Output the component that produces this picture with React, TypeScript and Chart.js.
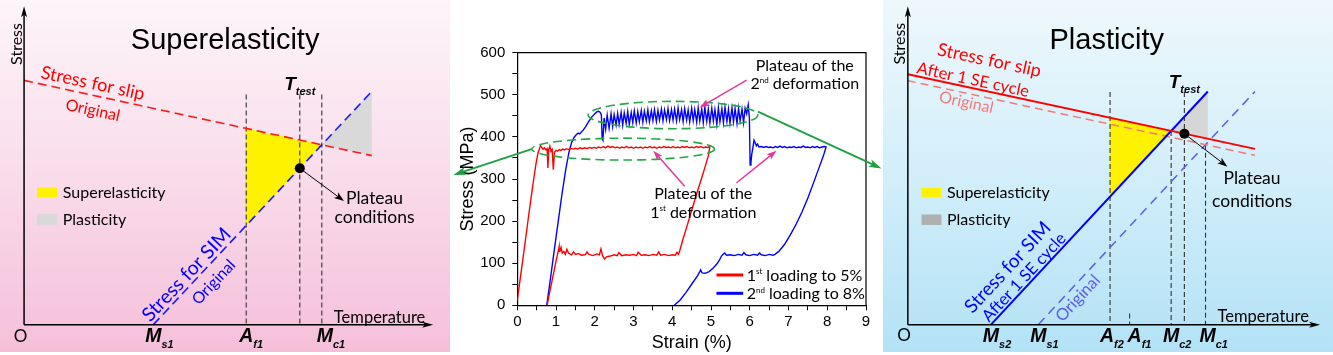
import React, { useEffect, useRef } from 'react';
import { Chart, registerables } from 'chart.js';

Chart.register(...registerables);

type Pt = [number, number];

const ANN = "Lato, 'Open Sans', sans-serif";
const ARIAL = "'Liberation Sans', Arial, sans-serif";

// ================= Middle panel: stress (MPa) vs strain (%) =================
const strainTickLabels = [0, 1, 2, 3, 4, 5, 6, 7, 8, 9];
const stressTickLabels = [0, 100, 200, 300, 400, 500, 600];

const firstLoading: Pt[] = [
  [0, 12], [0.1, 80], [0.2, 148], [0.3, 218], [0.4, 285], [0.48, 335], [0.53, 360], [0.57, 372],
  [0.6, 379], [0.63, 375], [0.66, 371], [0.7, 374], [0.74, 369], [0.77, 372], [0.79, 326], [0.81, 368],
  [0.84, 378], [0.87, 366], [0.9, 370], [0.93, 322], [0.96, 364], [1.0, 368], [1.04, 366], [1.08, 370],
  [1.12, 368], [1.17, 371], [1.22, 369], [1.27, 372], [1.32, 370], [1.38, 373], [1.44, 371], [1.5, 373],
  [1.56, 371], [1.62, 374], [1.68, 372], [1.74, 374], [1.8, 372], [1.86, 375], [1.92, 373], [1.98, 375],
  [2.04, 373], [2.1, 376], [2.16, 374], [2.22, 377], [2.28, 374], [2.34, 378], [2.4, 375], [2.46, 377],
  [2.52, 374], [2.58, 376], [2.64, 373], [2.7, 376], [2.76, 374], [2.82, 377], [2.88, 374], [2.94, 376],
  [3.0, 373], [3.06, 376], [3.12, 374], [3.18, 376], [3.24, 373], [3.3, 376], [3.36, 374], [3.42, 377],
  [3.48, 374], [3.54, 376], [3.6, 373], [3.66, 376], [3.72, 374], [3.78, 377], [3.84, 375], [3.9, 376],
  [3.96, 374], [4.02, 377], [4.08, 374], [4.14, 376], [4.2, 374], [4.26, 377], [4.32, 375], [4.38, 377],
  [4.44, 374], [4.5, 376], [4.56, 374], [4.62, 377], [4.68, 375], [4.74, 377], [4.8, 374], [4.86, 376],
  [4.92, 375], [4.97, 377],
];
const firstUnloading: Pt[] = [
  [4.93, 355], [4.85, 330], [4.75, 300], [4.62, 262], [4.5, 225], [4.38, 188], [4.27, 155], [4.2, 132], [4.16, 121],
  [4.12, 126], [4.08, 119], [4.0, 120], [3.9, 118], [3.8, 121], [3.7, 119], [3.65, 127], [3.6, 119], [3.5, 121],
  [3.4, 118], [3.3, 120], [3.2, 119], [3.12, 126], [3.08, 118], [3.0, 121], [2.9, 119], [2.8, 120], [2.7, 118],
  [2.62, 125], [2.58, 118], [2.5, 120], [2.4, 117], [2.3, 115], [2.25, 110], [2.2, 118], [2.16, 134], [2.12, 120],
  [2.05, 122], [1.95, 118], [1.85, 121], [1.8, 127], [1.75, 120], [1.65, 119], [1.58, 123], [1.5, 121], [1.45, 127],
  [1.4, 120], [1.32, 124], [1.28, 133], [1.24, 121], [1.2, 128], [1.16, 124], [1.13, 138], [1.1, 128], [1.08, 139],
  [1.0, 105], [0.9, 60], [0.8, 15], [0.77, 0],
];

const secondLoading: Pt[] = [
  [0.76, 0], [0.85, 60], [0.95, 128], [1.05, 195], [1.15, 262], [1.25, 322], [1.33, 362], [1.4, 386],
  [1.46, 398], [1.52, 405], [1.57, 409], [1.61, 407], [1.65, 411], [1.7, 416], [1.76, 424], [1.84, 436],
  [1.92, 447], [2.0, 455], [2.06, 460], [2.1, 461], [2.14, 458], [2.17, 452], [2.19, 395], [2.21, 392],
  [2.24, 445], [2.28, 418], [2.32, 452], [2.37, 420], [2.42, 455], [2.46, 425], [2.5, 453], [2.55, 428],
  [2.59, 456], [2.63, 430], [2.68, 458], [2.72, 428], [2.76, 457], [2.81, 432], [2.85, 460], [2.89, 430],
  [2.94, 458], [2.98, 434], [3.02, 462], [3.07, 433], [3.11, 460], [3.15, 436], [3.2, 463], [3.24, 435],
  [3.28, 461], [3.33, 438], [3.37, 464], [3.41, 436], [3.46, 462], [3.5, 439], [3.54, 465], [3.59, 437],
  [3.63, 463], [3.67, 440], [3.72, 466], [3.76, 438], [3.8, 464], [3.85, 441], [3.89, 467], [3.93, 439],
  [3.98, 465], [4.02, 440], [4.06, 466], [4.11, 438], [4.15, 468], [4.19, 441], [4.24, 465], [4.28, 437],
  [4.32, 467], [4.37, 440], [4.41, 464], [4.45, 436], [4.5, 468], [4.54, 439], [4.58, 465], [4.63, 435],
  [4.67, 469], [4.71, 438], [4.76, 466], [4.8, 434], [4.84, 470], [4.89, 437], [4.93, 466], [4.97, 433],
  [5.02, 468], [5.06, 438], [5.1, 465], [5.15, 430], [5.19, 469], [5.23, 436], [5.28, 467], [5.32, 434],
  [5.36, 470], [5.41, 437], [5.45, 466], [5.49, 433], [5.54, 469], [5.58, 436], [5.62, 467], [5.67, 432],
  [5.71, 468], [5.75, 438], [5.8, 466], [5.84, 434], [5.88, 468], [5.92, 455], [5.96, 476], [5.99, 445],
  [6.01, 333], [6.03, 338], [6.05, 358], [6.08, 374], [6.11, 392], [6.14, 386], [6.17, 379], [6.2, 383],
  [6.24, 376], [6.3, 377], [6.36, 375], [6.42, 377], [6.48, 375], [6.54, 376], [6.6, 374], [6.66, 377],
  [6.72, 375], [6.78, 378], [6.84, 375], [6.9, 377], [6.96, 374], [7.02, 376], [7.08, 375], [7.14, 377],
  [7.2, 374], [7.26, 376], [7.32, 375], [7.38, 378], [7.44, 375], [7.5, 376], [7.56, 374], [7.62, 377],
  [7.68, 375], [7.74, 377], [7.8, 374], [7.86, 376], [7.92, 377], [7.97, 376],
];
const secondUnloading: Pt[] = [
  [7.9, 355], [7.8, 330], [7.65, 292], [7.5, 255], [7.35, 222], [7.2, 193], [7.05, 168], [6.9, 145],
  [6.75, 128], [6.65, 121], [6.6, 119], [6.5, 121], [6.4, 118], [6.3, 120], [6.25, 124], [6.2, 119],
  [6.1, 121], [6.0, 118], [5.9, 120], [5.85, 125], [5.8, 119], [5.7, 121], [5.6, 118], [5.5, 120],
  [5.4, 119], [5.35, 124], [5.3, 120], [5.27, 117], [5.22, 108], [5.15, 98], [5.05, 88], [4.95, 80],
  [4.85, 76], [4.77, 77], [4.73, 84], [4.71, 80], [4.65, 70], [4.5, 50], [4.35, 30], [4.2, 12], [4.05, 0],
];

const legendLabels = [
  [{ t: '1' }, { t: 'st', k: 'sup' }, { t: ' loading to 5%' }],
  [{ t: '2' }, { t: 'nd', k: 'sup' }, { t: ' loading to 8%' }],
];
const seriesColors = ['#ff0000', '#0000ff'];

// ================= Left panel schematic (arbitrary temperature / stress units) =================
const seSlip: Pt[] = [[0, 83.8], [88.9, 58.0]];
const seSim: Pt[] = [[33.05, 0], [88.9, 80.0]];
const seAf1 = 56.8;
const seTtest = 70.5;
const seLineTop = 79;

// ================= Right panel schematic =================
const plSlipAfter: Pt[] = [[0, 85.9], [88.75, 60.3]];
const plSlipOrig: Pt[] = [[0, 83.7], [88.75, 58.1]];
const plSimAfter: Pt[] = [[21.25, 0], [76.7, 80.0]];
const plSimOrig: Pt[] = [[33.35, 0], [88.75, 80.0]];
const plAf2 = 51.7;
const plAf1 = 56.7;
const plTtest = 70.7;
const plLineTop = 79.8;

// ---------------- helpers ----------------
const xy = (a: Pt[]) => a.map(([x, y]) => ({ x, y }));
const lineAt = (s: Pt[], x: number) => s[0][1] + ((s[1][1] - s[0][1]) * (x - s[0][0])) / (s[1][0] - s[0][0]);
const crossX = (a: Pt[], b: Pt[]) => {
  const sa = (a[1][1] - a[0][1]) / (a[1][0] - a[0][0]);
  const sb = (b[1][1] - b[0][1]) / (b[1][0] - b[0][0]);
  const ia = a[0][1] - sa * a[0][0];
  const ib = b[0][1] - sb * b[0][0];
  return (ib - ia) / (sa - sb);
};

type Seg = { t: string; k?: string };
type TOpt = { size: number; family?: string; weight?: string; style?: string; color?: string; align?: string; rot?: number; sub?: number };
function rich(ctx: CanvasRenderingContext2D, segs: Seg[], x: number, y: number, o: TOpt) {
  const s = o.size;
  const ss = s * (o.sub ?? 0.6);
  const fnt = (sz: number) => `${o.style ?? 'normal'} ${o.weight ?? 'normal'} ${sz}px ${o.family ?? ANN}`;
  ctx.save();
  ctx.translate(x, y);
  ctx.rotate(o.rot ?? 0);
  ctx.textBaseline = 'alphabetic';
  ctx.textAlign = 'left';
  ctx.fillStyle = o.color ?? '#000';
  let total = 0;
  const ws = segs.map((g) => {
    ctx.font = fnt(g.k ? ss : s);
    const w = ctx.measureText(g.t).width;
    total += w;
    return w;
  });
  let cx = o.align === 'left' ? 0 : o.align === 'right' ? -total : -total / 2;
  const base = s * 0.36;
  segs.forEach((g, i) => {
    ctx.font = fnt(g.k ? ss : s);
    const dy = g.k === 'sub' ? s * 0.3 : g.k === 'sup' ? -s * 0.4 : 0;
    ctx.fillText(g.t, cx, base + dy);
    cx += ws[i];
  });
  ctx.restore();
}
const txt = (ctx: CanvasRenderingContext2D, t: string, x: number, y: number, o: TOpt) => rich(ctx, [{ t }], x, y, o);

function arrow(ctx: CanvasRenderingContext2D, x1: number, y1: number, x2: number, y2: number, color: string, w: number, hl: number, hw: number) {
  const a = Math.atan2(y2 - y1, x2 - x1);
  ctx.save();
  ctx.strokeStyle = color;
  ctx.fillStyle = color;
  ctx.lineWidth = w;
  ctx.setLineDash([]);
  ctx.beginPath();
  ctx.moveTo(x1, y1);
  ctx.lineTo(x2 - Math.cos(a) * hl * 0.7, y2 - Math.sin(a) * hl * 0.7);
  ctx.stroke();
  ctx.translate(x2, y2);
  ctx.rotate(a);
  ctx.beginPath();
  ctx.moveTo(0, 0);
  ctx.lineTo(-hl, hw / 2);
  ctx.lineTo(-hl * 0.75, 0);
  ctx.lineTo(-hl, -hw / 2);
  ctx.closePath();
  ctx.fill();
  ctx.restore();
}

const lineDs = (data: Pt[], color: string, width: number, dash: number[] = []) => ({
  data: xy(data), showLine: true, borderColor: color, borderWidth: width, borderDash: dash,
  pointRadius: 0, fill: false, tension: 0,
});
const polyDs = (data: Pt[], color: string) => ({
  data: xy([...data, data[0]]), showLine: true, borderWidth: 0, borderColor: 'rgba(0,0,0,0)',
  backgroundColor: color, fill: 'shape', pointRadius: 0, tension: 0,
});
const dotDs = (p: Pt) => ({ data: xy([p]), showLine: false, pointRadius: 5, pointBackgroundColor: '#000', pointBorderWidth: 0 });

const baseSchematicOptions = (xmin: number, xmax: number) => ({
  responsive: false, animation: false as const, devicePixelRatio: 1, events: [] as any[],
  layout: { padding: 0 },
  plugins: { legend: { display: false }, tooltip: { enabled: false } },
  scales: {
    x: { type: 'linear' as const, display: false, min: xmin, max: xmax },
    y: { type: 'linear' as const, display: false, min: -7.667, max: 109.667 },
  },
});

function drawAxes(ctx: CanvasRenderingContext2D, px: (v: number) => number, py: (v: number) => number, xEnd: number) {
  const ox = px(0), oy = py(0);
  arrow(ctx, ox, oy, ox, py(109.2), '#000', 1.5, 11, 6);
  arrow(ctx, ox, oy, px(xEnd), oy, '#000', 1.5, 11, 6);
}

function bgGradient(ctx: CanvasRenderingContext2D, w: number, h: number, stops: string[]) {
  const g = ctx.createLinearGradient(0, 0, 0, h);
  stops.forEach((c, i) => g.addColorStop(i / (stops.length - 1), c));
  ctx.save();
  ctx.fillStyle = g;
  ctx.fillRect(0, 0, w, h);
  ctx.restore();
}

const MARK = 19.5;
const markLabel = (ctx: CanvasRenderingContext2D, main: string, sub: string, x: number, y: number) => {
  ctx.save();
  ctx.font = `italic bold ${MARK}px ${ARIAL}`;
  const mw = ctx.measureText(main).width;
  ctx.restore();
  rich(ctx, [{ t: main }, { t: sub, k: 'sub' }], x - mw / 2, y, { size: MARK, family: ARIAL, weight: 'bold', style: 'italic', align: 'left', sub: 0.56 });
};

// ---------------- Left config ----------------
function leftConfig(): any {
  const mc1 = crossX(seSlip, seSim);
  const dotY = lineAt(seSim, seTtest);
  const edge = seSim[1][0];
  const datasets = [
    dotDs([seTtest, dotY]),
    lineDs(seSlip, '#ff1a1a', 1.6, [9, 5]),
    lineDs(seSim, '#1a1aff', 1.6, [9, 5]),
    lineDs([[seAf1, seLineTop], [seAf1, 0]], '#333', 1.1, [5, 3]),
    lineDs([[seTtest, seLineTop], [seTtest, 0]], '#333', 1.1, [5, 3]),
    lineDs([[mc1, seLineTop], [mc1, 0]], '#333', 1.1, [5, 3]),
    polyDs([[seAf1, lineAt(seSlip, seAf1)], [mc1, lineAt(seSlip, mc1)], [seAf1, lineAt(seSim, seAf1)]], '#fff200'),
    polyDs([[mc1, lineAt(seSlip, mc1)], [edge, lineAt(seSim, edge)], [edge, lineAt(seSlip, edge)]], '#d9d9d9'),
  ];
  const plugin = {
    id: 'leftDeco',
    beforeDraw(chart: any) {
      bgGradient(chart.ctx, chart.width, chart.height, ['#fdf5f9', '#f9dcea', '#f5bfda']);
    },
    afterDatasetsDraw(chart: any) {
      const ctx = chart.ctx as CanvasRenderingContext2D;
      const px = (v: number) => chart.scales.x.getPixelForValue(v);
      const py = (v: number) => chart.scales.y.getPixelForValue(v);
      const ang = (s: Pt[]) => Math.atan2(py(s[1][1]) - py(s[0][1]), px(s[1][0]) - px(s[0][0]));
      drawAxes(ctx, px, py, 104.6);
      txt(ctx, 'Superelasticity', px(51.4), py(98), { size: 29, family: ARIAL });
      txt(ctx, 'Stress', px(-1.9), py(96.3), { size: 16, rot: -Math.PI / 2 });
      txt(ctx, 'Temperature', px(90.9), py(2.7), { size: 16.5 });
      txt(ctx, 'O', px(-0.9), py(-3.7), { size: 17 });
      markLabel(ctx, 'M', 's1', px(seSim[0][0]), py(-3.7));
      markLabel(ctx, 'A', 'f1', px(seAf1), py(-3.7));
      markLabel(ctx, 'M', 'c1', px(mc1) + 3, py(-3.7));
      rich(ctx, [{ t: 'T' }, { t: 'test', k: 'sub' }], px(seTtest), py(83), { size: 19, family: ARIAL, weight: 'bold', style: 'italic', sub: 0.58 });
      const a1 = ang(seSlip);
      txt(ctx, 'Stress for slip', px(17.6), py(83), { size: 18, color: '#ff0000', rot: a1 });
      txt(ctx, 'Original', px(17.6), py(73.7), { size: 16, color: '#ff0000', rot: a1 });
      const a2 = ang(seSim);
      txt(ctx, 'Stress for SIM', px(41.4), py(17.3), { size: 19.5, color: '#0000ff', rot: a2 });
      txt(ctx, 'Original', px(48.4), py(14.7), { size: 16, color: '#0000ff', rot: a2 });
      arrow(ctx, px(seTtest), py(dotY), px(81.8), py(42.4), '#000', 1, 10, 7);
      txt(ctx, 'Plateau', px(89.6), py(43.7), { size: 17.5 });
      txt(ctx, 'conditions', px(89.6), py(37), { size: 17.5 });
      ctx.save();
      ctx.fillStyle = '#fff200';
      ctx.fillRect(px(3.3), py(47), px(8.45) - px(3.3), py(43.67) - py(47));
      ctx.fillStyle = '#d9d9d9';
      ctx.fillRect(px(3.3), py(38), px(8.45) - px(3.3), py(34) - py(38));
      ctx.restore();
      txt(ctx, 'Superelasticity', px(9.9), py(45.3), { size: 16, align: 'left' });
      txt(ctx, 'Plasticity', px(9.9), py(36), { size: 16, align: 'left' });
    },
  };
  return { type: 'scatter', data: { datasets }, options: baseSchematicOptions(-4.875, 107.625), plugins: [plugin] };
}

// ---------------- Right config ----------------
function rightConfig(): any {
  const mc2 = crossX(plSlipAfter, plSimAfter);
  const mc1 = crossX(plSlipOrig, plSimOrig);
  const dotY = lineAt(plSlipAfter, plTtest);
  const edge = plSimAfter[1][0];
  const datasets = [
    dotDs([plTtest, dotY]),
    lineDs(plSlipAfter, '#ff0000', 2),
    lineDs(plSimAfter, '#0000ff', 2),
    lineDs(plSlipOrig, '#f27a7a', 1.5, [8, 5]),
    lineDs(plSimOrig, '#5c5cf0', 1.5, [9, 6]),
    lineDs([[plAf2, plLineTop], [plAf2, 0]], '#333', 1.1, [5, 3]),
    lineDs([[plTtest, plLineTop], [plTtest, 0]], '#333', 1.1, [5, 3]),
    lineDs([[mc2, lineAt(plSlipAfter, mc2)], [mc2, 0]], '#333', 1.1, [5, 3]),
    lineDs([[mc1, lineAt(plSlipOrig, mc1)], [mc1, 0]], '#333', 1.1, [5, 3]),
    lineDs([[plAf1, 3.8], [plAf1, 0]], '#333', 1.1, [5, 3]),
    polyDs([[plAf2, lineAt(plSlipAfter, plAf2)], [mc2, lineAt(plSlipAfter, mc2)], [plAf2, lineAt(plSimAfter, plAf2)]], '#fff200'),
    polyDs([[mc2, lineAt(plSlipAfter, mc2)], [edge, lineAt(plSimAfter, edge)], [edge, lineAt(plSlipAfter, edge)]], '#d6d6d6'),
  ];
  const plugin = {
    id: 'rightDeco',
    beforeDraw(chart: any) {
      bgGradient(chart.ctx, chart.width, chart.height, ['#eef8fc', '#d2eefa', '#b3e2f6']);
    },
    afterDatasetsDraw(chart: any) {
      const ctx = chart.ctx as CanvasRenderingContext2D;
      const px = (v: number) => chart.scales.x.getPixelForValue(v);
      const py = (v: number) => chart.scales.y.getPixelForValue(v);
      const ang = (s: Pt[]) => Math.atan2(py(s[1][1]) - py(s[0][1]), px(s[1][0]) - px(s[0][0]));
      drawAxes(ctx, px, py, 105.4);
      txt(ctx, 'Plasticity', px(50.85), py(98.1), { size: 29, family: ARIAL });
      txt(ctx, 'Stress', px(-2.1), py(96.4), { size: 16, rot: -Math.PI / 2 });
      txt(ctx, 'Temperature', px(90.85), py(2.9), { size: 16.5 });
      txt(ctx, 'O', px(-1), py(-3.6), { size: 17 });
      markLabel(ctx, 'M', 's2', px(plSimAfter[0][0]), py(-3.6));
      markLabel(ctx, 'M', 's1', px(plSimOrig[0][0]), py(-3.6));
      markLabel(ctx, 'A', 'f2', px(plAf2) - 3, py(-3.6));
      markLabel(ctx, 'A', 'f1', px(plAf1) + 5, py(-3.6));
      markLabel(ctx, 'M', 'c2', px(mc2), py(-3.6));
      markLabel(ctx, 'M', 'c1', px(mc1) + 2, py(-3.6));
      rich(ctx, [{ t: 'T' }, { t: 'test', k: 'sub' }], px(plTtest), py(83.7), { size: 19, family: ARIAL, weight: 'bold', style: 'italic', sub: 0.58 });
      const a1 = ang(plSlipAfter);
      txt(ctx, 'Stress for slip', px(20.85), py(90.9), { size: 18, color: '#ff0000', rot: a1 });
      txt(ctx, 'After 1 SE cycle', px(16.7), py(84.2), { size: 16.5, color: '#ff0000', rot: a1 });
      txt(ctx, 'Original', px(15), py(76.4), { size: 16, color: '#f27a7a', rot: a1 });
      const a2 = ang(plSimAfter);
      txt(ctx, 'Stress for SIM', px(25.4), py(19.8), { size: 19, color: '#0000ff', rot: a2 });
      txt(ctx, 'After 1 SE cycle', px(29.6), py(16.4), { size: 16.5, color: '#0000ff', rot: a2 });
      txt(ctx, 'Original', px(43.35), py(9.2), { size: 16.5, color: '#5c5cf0', rot: ang(plSimOrig) });
      arrow(ctx, px(plTtest), py(dotY), px(81.7), py(54.2), '#000', 1, 10, 7);
      txt(ctx, 'Plateau', px(88), py(50.3), { size: 17.5 });
      txt(ctx, 'conditions', px(88), py(42.5), { size: 17.5 });
      ctx.save();
      ctx.fillStyle = '#fff200';
      ctx.fillRect(px(3.5), py(46.9), px(8.6) - px(3.5), py(43.67) - py(46.9));
      ctx.fillStyle = '#b0b0b0';
      ctx.fillRect(px(3.5), py(37.8), px(8.6) - px(3.5), py(34.2) - py(37.8));
      ctx.restore();
      txt(ctx, 'Superelasticity', px(10), py(45.3), { size: 16, align: 'left' });
      txt(ctx, 'Plasticity', px(10), py(36), { size: 16, align: 'left' });
    },
  };
  return { type: 'scatter', data: { datasets }, options: baseSchematicOptions(-5.075, 107.425), plugins: [plugin] };
}

// ---------------- Middle config ----------------
function midConfig(): any {
  const curve1 = [...firstLoading, ...firstUnloading];
  const curve2 = [...secondLoading, ...secondUnloading];
  const tickFont = { family: ARIAL, size: 15 };
  const plugin = {
    id: 'midDeco',
    beforeDraw(chart: any) {
      const ctx = chart.ctx as CanvasRenderingContext2D;
      ctx.save();
      ctx.fillStyle = '#ffffff';
      ctx.fillRect(10, 0, 433, chart.height);
      ctx.restore();
    },
    afterDraw(chart: any) {
      const ctx = chart.ctx as CanvasRenderingContext2D;
      const a = chart.chartArea;
      const px = (v: number) => chart.scales.x.getPixelForValue(v);
      const py = (v: number) => chart.scales.y.getPixelForValue(v);
      ctx.save();
      ctx.strokeStyle = '#000';
      ctx.lineWidth = 1.2;
      ctx.beginPath();
      ctx.moveTo(a.left, a.top);
      ctx.lineTo(a.right, a.top);
      ctx.lineTo(a.right, a.bottom);
      ctx.stroke();
      // dashed ellipses around plateaus
      ctx.strokeStyle = '#22a845';
      ctx.lineWidth = 1.6;
      ctx.setLineDash([9, 5]);
      [[2.73, 371, 2.36, 26], [4.02, 452, 2.19, 32.5]].forEach(([cx, cy, hw, hh]) => {
        ctx.beginPath();
        ctx.ellipse(px(cx), py(cy), px(cx + hw) - px(cx), py(cy - hh) - py(cy), 0, 0, Math.PI * 2);
        ctx.stroke();
      });
      ctx.restore();
      arrow(ctx, px(0.37), py(371), px(-1.65), py(309.5), '#1fa040', 1.8, 13, 8);
      arrow(ctx, px(6.21), py(460), px(9.4), py(325), '#1fa040', 1.8, 13, 8);
      const mag = '#e8359b';
      arrow(ctx, px(5.92), py(535), px(4.71), py(470), mag, 1.5, 10, 7);
      arrow(ctx, px(4.32), py(283), px(3.51), py(367), mag, 1.5, 10, 7);
      arrow(ctx, px(5.66), py(291), px(6.69), py(367), mag, 1.5, 10, 7);
      txt(ctx, 'Plateau of the', px(7.42), py(571), { size: 16 });
      rich(ctx, [{ t: '2' }, { t: 'nd', k: 'sup' }, { t: ' deformation' }], px(7.42), py(527), { size: 16, sub: 0.5 });
      txt(ctx, 'Plateau of the', px(4.8), py(266), { size: 16 });
      rich(ctx, [{ t: '1' }, { t: 'st', k: 'sup' }, { t: ' deformation' }], px(4.8), py(222), { size: 16, sub: 0.5 });
      // legend
      [72, 28.5].forEach((yy, i) => {
        ctx.save();
        ctx.strokeStyle = seriesColors[i];
        ctx.lineWidth = 3;
        ctx.beginPath();
        ctx.moveTo(px(5.14), py(yy));
        ctx.lineTo(px(5.83), py(yy));
        ctx.stroke();
        ctx.restore();
        rich(ctx, legendLabels[i] as Seg[], px(5.92), py(yy), { size: 16, align: 'left', sub: 0.5 });
      });
    },
  };
  return {
    type: 'scatter',
    data: {
      datasets: [
        { data: xy(curve1), showLine: true, borderColor: seriesColors[0], borderWidth: 1.4, pointRadius: 0, tension: 0 },
        { data: xy(curve2), showLine: true, borderColor: seriesColors[1], borderWidth: 1.4, pointRadius: 0, tension: 0 },
      ],
    },
    options: {
      responsive: false, animation: false, devicePixelRatio: 1, events: [],
      layout: { padding: { left: 0, right: 26, top: 52.7, bottom: 0 } },
      plugins: { legend: { display: false }, tooltip: { enabled: false } },
      scales: {
        x: {
          type: 'linear', min: 0, max: 9,
          afterFit: (s: any) => { s.height = 46.7; },
          ticks: {
            stepSize: 0.5, autoSkip: false, maxRotation: 0, color: '#000', font: tickFont, padding: 3,
            callback: (v: number) => (strainTickLabels.includes(v) ? String(v) : ''),
          },
          grid: { drawOnChartArea: false, tickLength: 5, color: '#000', tickWidth: 1 },
          border: { color: '#000', width: 1.2 },
          title: { display: true, text: 'Strain (%)', color: '#000', font: { family: ARIAL, size: 18, lineHeight: 1 }, padding: { top: 0, bottom: 0 } },
        },
        y: {
          type: 'linear', min: 0, max: 600,
          afterFit: (s: any) => { s.width = 77.3; },
          ticks: {
            stepSize: 50, autoSkip: false, color: '#000', font: tickFont, padding: 7,
            callback: (v: number) => (stressTickLabels.includes(v) ? String(v) : ''),
          },
          grid: { drawOnChartArea: false, tickLength: 5, color: '#000', tickWidth: 1 },
          border: { color: '#000', width: 1.2 },
          title: { display: true, text: 'Stress (MPa)', color: '#000', font: { family: ARIAL, size: 18, lineHeight: 1.2 }, padding: { top: 17.5, bottom: 0 } },
        },
      },
    },
    plugins: [plugin],
  };
}

export default function App() {
  const lRef = useRef<HTMLCanvasElement>(null);
  const mRef = useRef<HTMLCanvasElement>(null);
  const rRef = useRef<HTMLCanvasElement>(null);
  useEffect(() => {
    const charts = [
      new Chart(lRef.current!, leftConfig()),
      new Chart(rRef.current!, rightConfig()),
      new Chart(mRef.current!, midConfig()),
    ];
    return () => charts.forEach((c) => c.destroy());
  }, []);
  return (
    <div style={{ position: 'absolute', left: 0, top: 0, width: 1333, height: 355, background: '#fff', overflow: 'hidden' }}>
      <canvas ref={lRef} width={450} height={352} style={{ position: 'absolute', left: 0, top: 0, width: 450, height: 352 }} />
      <canvas ref={rRef} width={450} height={352} style={{ position: 'absolute', left: 883, top: 0, width: 450, height: 352 }} />
      <canvas ref={mRef} width={452} height={352} style={{ position: 'absolute', left: 440, top: 0, width: 452, height: 352, zIndex: 2 }} />
    </div>
  );
}
